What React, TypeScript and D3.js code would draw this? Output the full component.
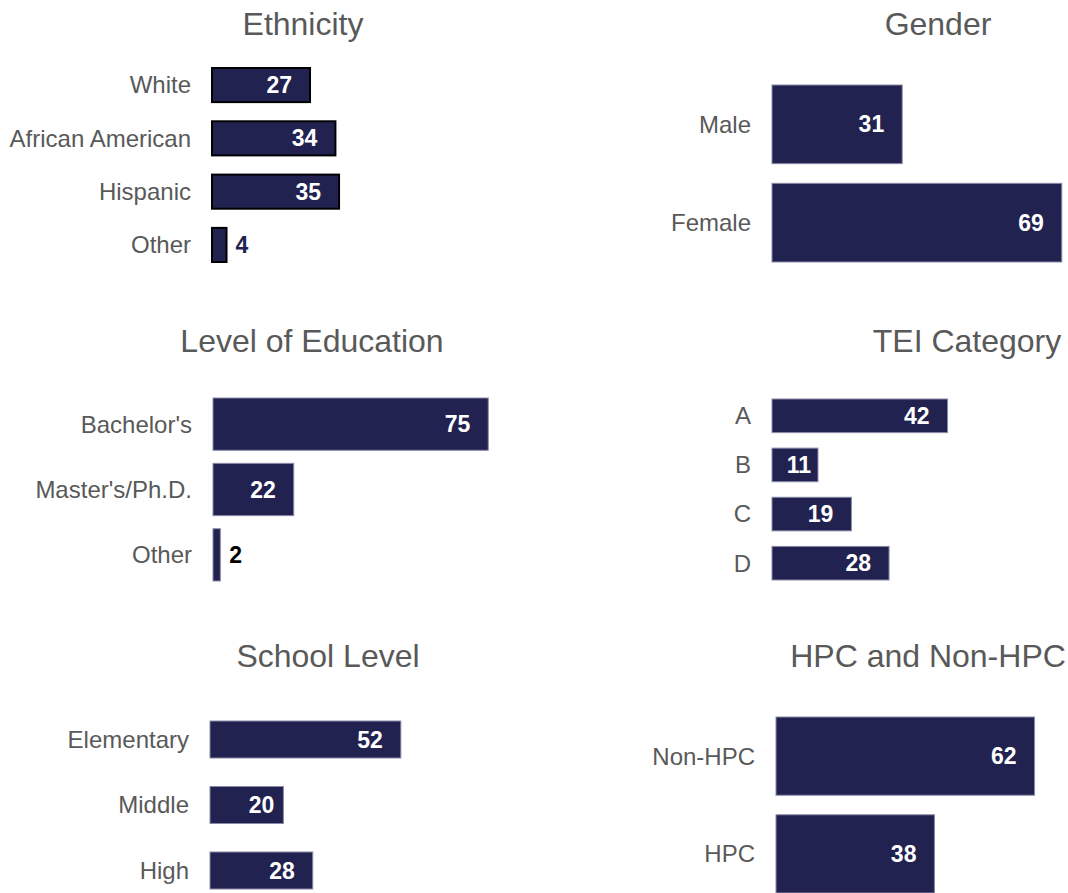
import React from "react";
import * as d3 from "d3";

const ethnicityCats = ["White", "African American", "Hispanic", "Other"];
const ethnicityVals = [27, 34, 35, 4];
const genderCats = ["Male", "Female"];
const genderVals = [31, 69];
const educationCats = ["Bachelor's", "Master's/Ph.D.", "Other"];
const educationVals = [75, 22, 2];
const teiCats = ["A", "B", "C", "D"];
const teiVals = [42, 11, 19, 28];
const schoolCats = ["Elementary", "Middle", "High"];
const schoolVals = [52, 20, 28];
const hpcCats = ["Non-HPC", "HPC"];
const hpcVals = [62, 38];

const NAVY = "#222251";
const GRAY = "#595959";
const FONT = "'Liberation Sans', Arial, sans-serif";

type Panel = {
  title: string;
  cats: string[];
  vals: number[];
  titleX: number;
  titleY: number;
  x0: number;
  unit: number;
  top: number;
  bottom: number;
  padInner: number;
  stroke: string;
  strokeW: number;
  outsideColor: string;
};

const panels: Panel[] = [
  { title: "Ethnicity", cats: ethnicityCats, vals: ethnicityVals, titleX: 303, titleY: 35, x0: 212, unit: 3.63, top: 68, bottom: 262, padInner: 0.36, stroke: "#000", strokeW: 2, outsideColor: NAVY },
  { title: "Gender", cats: genderCats, vals: genderVals, titleX: 938, titleY: 35, x0: 772, unit: 4.2, top: 85, bottom: 262, padInner: 0.2, stroke: "#8a8aa8", strokeW: 1, outsideColor: NAVY },
  { title: "Level of Education", cats: educationCats, vals: educationVals, titleX: 312, titleY: 352, x0: 213, unit: 3.67, top: 398, bottom: 581, padInner: 0.2, stroke: "#8a8aa8", strokeW: 1, outsideColor: "#000" },
  { title: "TEI Category", cats: teiCats, vals: teiVals, titleX: 967, titleY: 352, x0: 772, unit: 4.18, top: 399, bottom: 580, padInner: 0.316, stroke: "#8a8aa8", strokeW: 1, outsideColor: NAVY },
  { title: "School Level", cats: schoolCats, vals: schoolVals, titleX: 328, titleY: 667, x0: 210, unit: 3.67, top: 721, bottom: 889, padInner: 0.435, stroke: "#8a8aa8", strokeW: 1, outsideColor: NAVY },
  { title: "HPC and Non-HPC", cats: hpcCats, vals: hpcVals, titleX: 928, titleY: 667, x0: 776, unit: 4.17, top: 717, bottom: 893, padInner: 0.2, stroke: "#8a8aa8", strokeW: 1, outsideColor: NAVY },
];

function PanelView({ p }: { p: Panel }) {
  const maxV = d3.max(p.vals) as number;
  const x = d3.scaleLinear().domain([0, maxV]).range([p.x0, p.x0 + maxV * p.unit]);
  const y = d3.scaleBand<string>().domain(p.cats).range([p.top, p.bottom]).paddingInner(p.padInner).paddingOuter(0);
  const bw = y.bandwidth();
  return (
    <g>
      <text x={p.titleX} y={p.titleY} textAnchor="middle" fontSize={32} fill={GRAY} fontFamily={FONT}>
        {p.title}
      </text>
      {p.cats.map((c, i) => {
        const v = p.vals[i];
        const yy = y(c) as number;
        const cy = yy + bw / 2;
        const w = x(v) - x(0);
        const inside = w > 30;
        const inset = w > 75 ? 18 : w > 60 ? 9 : 7;
        return (
          <g key={c}>
            <rect x={x(0)} y={yy} width={w} height={bw} fill={NAVY} stroke={p.stroke} strokeWidth={p.strokeW} />
            <text x={x(0) - 21} y={cy} dy="0.35em" textAnchor="end" fontSize={24} fill={GRAY} fontFamily={FONT}>
              {c}
            </text>
            {inside ? (
              <text x={x(v) - inset} y={cy} dy="0.35em" textAnchor="end" fontSize={23} fontWeight="bold" fill="#fff" fontFamily={FONT}>
                {v}
              </text>
            ) : (
              <text x={x(v) + 9} y={cy} dy="0.35em" textAnchor="start" fontSize={23} fontWeight="bold" fill={p.outsideColor} fontFamily={FONT}>
                {v}
              </text>
            )}
          </g>
        );
      })}
    </g>
  );
}

export default function App() {
  return (
    <svg width={1068} height={893} style={{ position: "absolute", left: 0, top: 0, background: "#fff" }}>
      {panels.map((p) => (
        <PanelView key={p.title} p={p} />
      ))}
    </svg>
  );
}
